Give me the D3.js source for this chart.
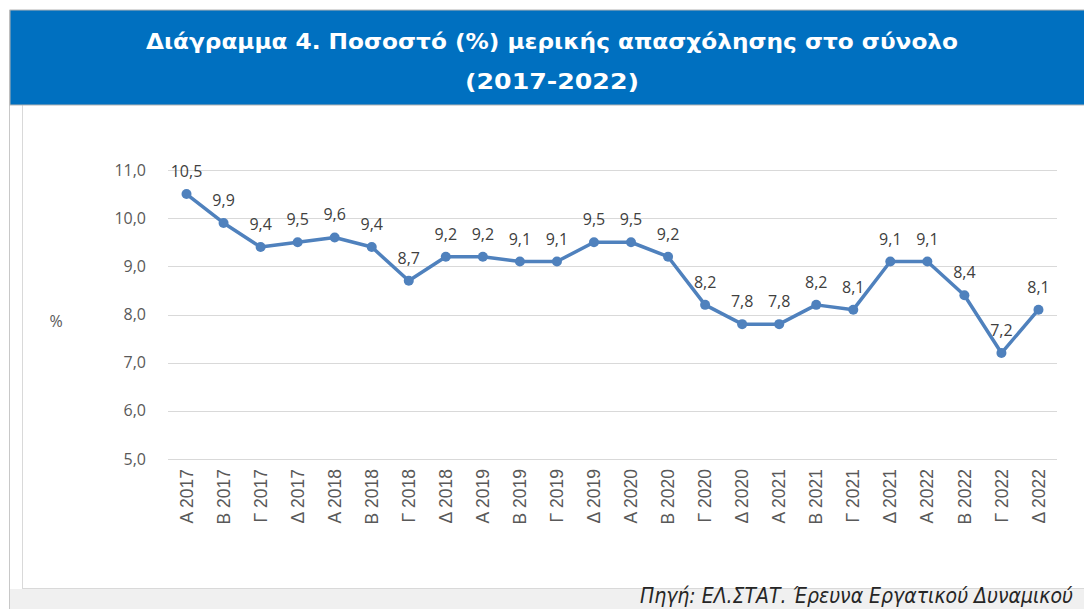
<!DOCTYPE html>
<html>
<head>
<meta charset="utf-8">
<script src="https://cdn.jsdelivr.net/npm/d3@7"></script>
<style>
  body { margin: 0; background: #fff; }
  svg { display: block; }
</style>
</head>
<body>
<div id="chart"></div>
<script>
var quarters = ["Α 2017","Β 2017","Γ 2017","Δ 2017","Α 2018","Β 2018","Γ 2018","Δ 2018",
    "Α 2019","Β 2019","Γ 2019","Δ 2019","Α 2020","Β 2020","Γ 2020","Δ 2020",
    "Α 2021","Β 2021","Γ 2021","Δ 2021","Α 2022","Β 2022","Γ 2022","Δ 2022"];
var partTime = [10.5, 9.9, 9.4, 9.5, 9.6, 9.4, 8.7, 9.2, 9.2, 9.1, 9.1, 9.5,
    9.5, 9.2, 8.2, 7.8, 7.8, 8.2, 8.1, 9.1, 9.1, 8.4, 7.2, 8.1];
var yTicks = [5, 6, 7, 8, 9, 10, 11];
var titleLines = ["Διάγραμμα 4. Ποσοστό (%) μερικής απασχόλησης στο σύνολο", "(2017-2022)"];
var sourceText = "Πηγή: ΕΛ.ΣΤΑΤ. Έρευνα Εργατικού Δυναμικού";

var width = 1084, height = 609;
var fmt = function(v){ return v.toFixed(1).replace(".", ","); };

var svg = d3.select("#chart").append("svg")
    .attr("width", width)
    .attr("height", height);

// frame + footer strip
svg.append("rect").attr("x", 10).attr("y", 589).attr("width", width).attr("height", 30)
    .attr("fill", "#f0f0f0");
svg.append("line").attr("x1", 9.5).attr("x2", 9.5).attr("y1", 10).attr("y2", height)
    .attr("stroke", "#c8c8c8");
svg.append("line").attr("x1", 22.5).attr("x2", 22.5).attr("y1", 105).attr("y2", 588)
    .attr("stroke", "#d9d9d9");
svg.append("line").attr("x1", 22).attr("x2", width).attr("y1", 588.5).attr("y2", 588.5)
    .attr("stroke", "#d9d9d9");

// title banner
svg.append("rect").attr("x", 10).attr("y", 10).attr("width", width).attr("height", 95)
    .attr("fill", "#0070c0").attr("stroke", "#b4b4b4").attr("stroke-width", 1);
svg.selectAll(".title").data(titleLines).enter().append("text")
    .attr("class", "title")
    .attr("x", 552)
    .attr("y", function(d, i){ return 49 + i * 40; })
    .attr("text-anchor", "middle")
    .attr("fill", "#fff")
    .style("font-family", "'DejaVu Sans Condensed', 'DejaVu Sans', sans-serif")
    .style("font-weight", "bold")
    .style("font-size", "22px")
    .attr("textLength", function(d, i){ return i === 0 ? 812 : 174; })
    .attr("lengthAdjust", "spacingAndGlyphs")
    .text(function(d){ return d; });

// scales
var x = d3.scaleBand().domain(quarters).range([168, 1057]);
var y = d3.scaleLinear().domain([5, 11]).range([459, 170]);

// gridlines
svg.append("g").selectAll("line").data(yTicks).enter().append("line")
    .attr("x1", 168).attr("x2", 1057)
    .attr("y1", function(d){ return Math.round(y(d)) + 0.5; })
    .attr("y2", function(d){ return Math.round(y(d)) + 0.5; })
    .attr("stroke", "#d9d9d9")
    .attr("stroke-width", 1);

// y axis labels
var yAxis = svg.append("g")
    .attr("transform", "translate(146,0)")
    .call(d3.axisLeft(y).tickValues(yTicks).tickSize(0).tickPadding(0).tickFormat(fmt));
yAxis.select(".domain").remove();
yAxis.selectAll("text")
    .attr("fill", "#595959")
    .style("font-family", "'Open Sans', 'DejaVu Sans', sans-serif")
    .style("font-size", "16px");

svg.append("text").attr("x", 56).attr("y", 327)
    .attr("text-anchor", "middle")
    .attr("fill", "#595959")
    .style("font-family", "'Open Sans', 'DejaVu Sans', sans-serif")
    .style("font-size", "16px")
    .text("%");

// x axis labels
var xAxis = svg.append("g")
    .attr("transform", "translate(0,459)")
    .call(d3.axisBottom(x).tickSize(0).tickPadding(0));
xAxis.select(".domain").remove();
xAxis.selectAll("text")
    .attr("transform", "rotate(-90)")
    .attr("x", -10).attr("y", 0).attr("dy", "0.35em")
    .attr("text-anchor", "end")
    .attr("fill", "#595959")
    .style("font-family", "'Liberation Sans', Arial, sans-serif")
    .style("font-size", "17.5px");

// line + markers
var line = d3.line()
    .x(function(d, i){ return x(quarters[i]) + x.bandwidth() / 2; })
    .y(function(d){ return y(d); });

svg.append("path").datum(partTime)
    .attr("d", line)
    .attr("fill", "none")
    .attr("stroke", "#4f81bd")
    .attr("stroke-width", 3.5)
    .attr("stroke-linejoin", "round");

svg.append("g").selectAll("circle").data(partTime).enter().append("circle")
    .attr("cx", function(d, i){ return x(quarters[i]) + x.bandwidth() / 2; })
    .attr("cy", function(d){ return y(d); })
    .attr("r", 5)
    .attr("fill", "#4f81bd");

svg.append("g").selectAll("text").data(partTime).enter().append("text")
    .attr("x", function(d, i){ return x(quarters[i]) + x.bandwidth() / 2; })
    .attr("y", function(d){ return y(d) - 17; })
    .attr("text-anchor", "middle")
    .attr("fill", "#404040")
    .style("font-family", "'Open Sans', 'DejaVu Sans', sans-serif")
    .style("font-size", "16px")
    .text(fmt);

// source
svg.append("text").attr("x", 640).attr("y", 603)
    .attr("fill", "#262626")
    .style("font-family", "'DejaVu Sans Condensed', 'DejaVu Sans', sans-serif")
    .style("font-style", "italic")
    .style("font-size", "21px")
    .text(sourceText);
</script>
</body>
</html>
